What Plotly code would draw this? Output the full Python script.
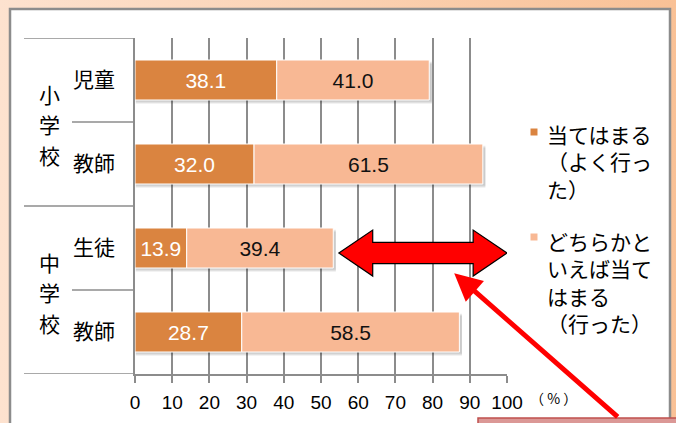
import base64
import plotly.graph_objects as go

W, H = 676, 423

# ---- data -------------------------------------------------------------
groups = ["小学校", "中学校"]
group_rows = [(0, 1), (2, 3)]
roles = ["児童", "教師", "生徒", "教師"]
series_names = ["当てはまる（よく行った）", "どちらかといえば当てはまる（行った）"]
legend_lines = [
    ["当てはまる", "（よく行っ", "た）"],
    ["どちらかと", "いえば当て", "はまる", "（行った）"],
]
strong = [38.1, 32.0, 13.9, 28.7]   # 当てはまる
weak = [41.0, 61.5, 39.4, 58.5]     # どちらかといえば当てはまる
x_ticks = list(range(0, 101, 10))
unit_label = "（ % ）"

# ---- styling ----------------------------------------------------------
C_DARK = "#DA8440"
C_LIGHT = "#F8B894"
GRID = "#8C8C8C"
NUM_FONT = "Liberation Sans, Arial, Noto Sans CJK JP"
JP_FONT = "Noto Sans CJK JP, Liberation Sans"

X0, X1 = 135, 507     # plot area, pixels
Y0, Y1 = 38, 374
ROW_PX = (Y1 - Y0) / len(roles)
bar_w = 40 / ROW_PX


def px(x):
    return x / W


def py(y):
    return 1 - y / H


rows = list(range(len(roles)))
totals = [a + b for a, b in zip(strong, weak)]

fig = go.Figure()

# soft drop shadow under each bar
for dy, alpha in [(4.0, 0.05), (3.0, 0.07), (1.8, 0.09)]:
    fig.add_bar(
        y=rows, x=[t + 0.5 for t in totals], base=0.2, orientation="h",
        width=bar_w, offset=-bar_w / 2 + dy / ROW_PX,
        marker=dict(color=f"rgba(0,0,0,{alpha})", line_width=0),
        hoverinfo="skip", showlegend=False,
    )

fig.add_bar(
    y=rows, x=strong, base=0, orientation="h", width=bar_w,
    name=series_names[0],
    marker=dict(color=C_DARK, line=dict(color="white", width=1)),
    text=[f"{v:.1f}" for v in strong], textposition="inside",
    insidetextanchor="middle", textangle=0,
    textfont=dict(color="white", size=21, family=NUM_FONT),
    showlegend=False,
)
fig.add_bar(
    y=rows, x=weak, base=strong, orientation="h", width=bar_w,
    name=series_names[1],
    marker=dict(color=C_LIGHT, line=dict(color="white", width=1)),
    text=[f"{v:.1f}" for v in weak], textposition="inside",
    insidetextanchor="middle", textangle=0,
    textfont=dict(color="#111111", size=21, family=NUM_FONT),
    showlegend=False,
)

# ---- background: peach gradient with a white panel ------------------------
svg = (
    f'<svg xmlns="http://www.w3.org/2000/svg" width="{W}" height="{H}">'
    '<defs><linearGradient id="g" x1="0" y1="0" x2="1" y2="0">'
    '<stop offset="0" stop-color="#FDE2CF"/>'
    '<stop offset="1" stop-color="#F9C196"/>'
    '</linearGradient></defs>'
    '<rect width="100%" height="100%" fill="url(#g)"/></svg>'
)
bg_src = "data:image/svg+xml;base64," + base64.b64encode(svg.encode()).decode()

shapes = [
    dict(type="rect", xref="paper", yref="paper", layer="below",
         x0=px(10), x1=px(670), y0=py(445), y1=py(9),
         fillcolor="white", line=dict(color=GRID, width=2.5)),
]

# category dividers on the left (outer for school, inner for role)
for b in [-0.5, 1.5, 3.5]:
    shapes.append(dict(type="line", xref="paper", yref="y",
                       x0=px(24), x1=px(X0), y0=b, y1=b,
                       line=dict(color=GRID, width=1.5)))
for b in [0.5, 2.5]:
    shapes.append(dict(type="line", xref="paper", yref="y",
                       x0=px(72), x1=px(X0), y0=b, y1=b,
                       line=dict(color=GRID, width=1.5)))

# double-headed arrow spanning the gap after 生徒
ya = 2.06
hh, sh = 0.274, 0.127
xa0 = totals[2] + 1.5
xa1 = xa0 + 9.1
xa3 = 100
xa2 = xa3 - 9.1
arrow_path = (
    f"M{xa0},{ya} L{xa1},{ya-hh} L{xa1},{ya-sh} L{xa2},{ya-sh} L{xa2},{ya-hh} "
    f"L{xa3},{ya} L{xa2},{ya+hh} L{xa2},{ya+sh} L{xa1},{ya+sh} L{xa1},{ya+hh} Z"
)
shapes.append(dict(type="path", xref="x", yref="y", path=arrow_path,
                   fillcolor="#FF0000", line=dict(color="black", width=1.2),
                   layer="above"))

# legend swatches
for i, yy in enumerate([128.5, 233.5]):
    shapes.append(dict(type="rect", xref="paper", yref="paper", layer="above",
                       x0=px(530.5), x1=px(537.5), y0=py(yy + 7), y1=py(yy),
                       fillcolor=[C_DARK, C_LIGHT][i], line_width=0))

# callout box at the bottom edge
shapes.append(dict(type="rect", xref="paper", yref="paper", layer="above",
                   x0=px(478), x1=px(700), y0=py(460), y1=py(418),
                   fillcolor="#DB9896", line=dict(color="#C0504D", width=1.5)))

annotations = []
# school labels written vertically
for g, (r0, r1) in zip(groups, group_rows):
    mid = (r0 + r1) / 2 + 2 / ROW_PX
    for k, ch in enumerate(g):
        annotations.append(dict(
            xref="paper", yref="y", x=px(49), y=mid + (k - 1) * 30.5 / ROW_PX,
            text=ch, showarrow=False, xanchor="center", yanchor="middle",
            font=dict(size=21, family=JP_FONT, color="black")))

# legend text
for lines, yc in zip(legend_lines, [161, 282]):
    annotations.append(dict(
        xref="paper", yref="paper", x=px(545), y=py(yc),
        text="<br>".join(lines), showarrow=False, align="left",
        xanchor="left", yanchor="middle",
        font=dict(size=21, family=JP_FONT, color="black")))

# unit label
annotations.append(dict(
    xref="paper", yref="paper", x=px(553), y=py(398), text=unit_label,
    showarrow=False, xanchor="center", yanchor="middle",
    font=dict(size=14, family=JP_FONT, color="black")))

# red pointer arrow
annotations.append(dict(
    xref="x", yref="y", x=85.8, y=2.3, text="", showarrow=True,
    arrowhead=2, arrowsize=1.1, arrowwidth=5, arrowcolor="#FF0000",
    ax=165, ay=145, standoff=0))

fig.update_layout(
    width=W, height=H,
    margin=dict(l=0, r=0, t=0, b=0, autoexpand=False),
    paper_bgcolor="#FCD5B8",
    plot_bgcolor="rgba(0,0,0,0)",
    barmode="overlay",
    showlegend=False,
    font=dict(family=NUM_FONT, color="black"),
    images=[dict(source=bg_src, xref="paper", yref="paper", x=0, y=1,
                 sizex=1, sizey=1, xanchor="left", yanchor="top",
                 sizing="stretch", layer="below")],
    shapes=shapes,
    annotations=annotations,
    xaxis=dict(
        domain=[px(X0), px(X1)], range=[0, 100], tickvals=x_ticks,
        showgrid=True, gridcolor=GRID, gridwidth=1.5, zeroline=False,
        showline=True, linecolor=GRID, linewidth=1.5,
        ticks="outside", ticklen=7, tickwidth=1.5, tickcolor=GRID,
        tickfont=dict(size=19, family=NUM_FONT, color="black"),
        ticklabelstandoff=3, automargin=False, fixedrange=True,
    ),
    yaxis=dict(
        domain=[py(Y1), py(Y0)], range=[3.5, -0.5],
        tickvals=rows, ticktext=roles,
        showgrid=False, zeroline=False,
        showline=True, linecolor=GRID, linewidth=1.5, ticks="",
        tickfont=dict(size=21, family=JP_FONT, color="black"),
        ticklabelstandoff=14, automargin=False, fixedrange=True,
    ),
)

fig.write_html("out.html")
